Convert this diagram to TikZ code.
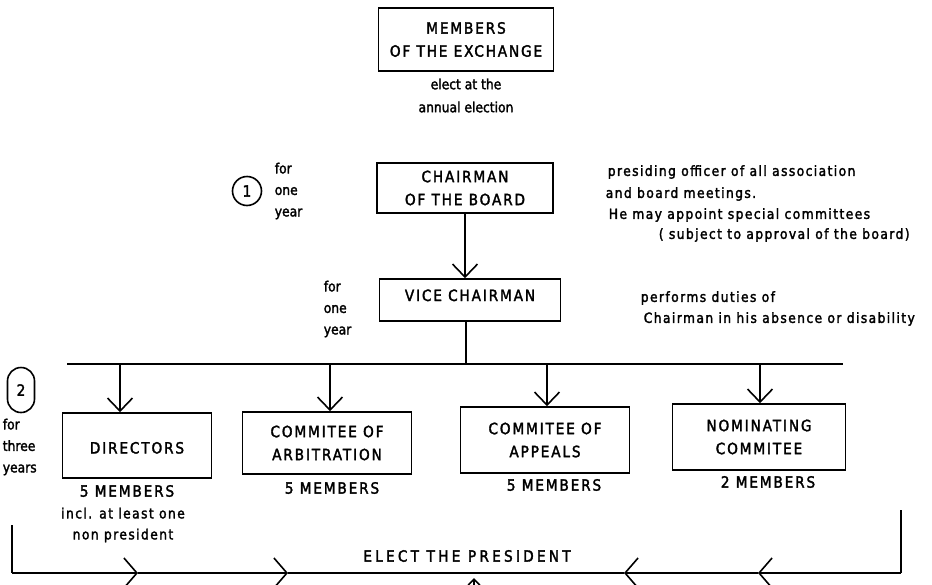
\documentclass[tikz,border=0pt]{standalone}
\usepackage{fontspec}
\setmainfont{DejaVu Sans}
\newfontfamily\capf[FakeStretch=0.88,LetterSpace=12,FakeBold=2]{DejaVu Sans}
\newfontfamily\elpf[FakeStretch=0.88,LetterSpace=21,FakeBold=2]{DejaVu Sans}
\newfontfamily\lowf[FakeStretch=0.88,FakeBold=2]{DejaVu Sans}
\newfontfamily\notef[FakeStretch=0.88,LetterSpace=10,FakeBold=2]{DejaVu Sans}
\usetikzlibrary{arrows.meta}
\begin{document}
\begin{tikzpicture}[x=1pt,y=-1pt,line width=1.6pt,
  box/.style={draw,line width=1.6pt,align=center,inner sep=0pt,font=\capf\fontsize{15.5}{23}\selectfont},
  lbl/.style={align=left,inner sep=0pt,font=\lowf\fontsize{14}{21.5}\selectfont},
  note/.style={inner sep=0pt,anchor=west,font=\notef\fontsize{14}{21}\selectfont},
  captxt/.style={inner sep=0pt,font=\capf\fontsize{15.5}{21}\selectfont},
  ring/.style={draw,line width=1.6pt,inner sep=0pt,font=\capf\fontsize{15.5}{18}\selectfont},
  arr/.style={line width=1.6pt,-{Straight Barb[length=13pt,width=25pt]}},
  chev/.style={line width=1.6pt,-{Straight Barb[length=13pt,width=30pt]}}]
\useasboundingbox[fill=white] (0,0) rectangle (932,584);
\clip (0,0) rectangle (932,584);
% top
\node[box,minimum width=175pt,minimum height=63pt] (mem) at (466,39.5) {MEMBERS\\OF THE EXCHANGE};
\node[lbl,align=center,font=\lowf\fontsize{14}{23}\selectfont] (elect) at (466,95.5) {elect at the\\annual election};
% chairman
\node[ring,circle,minimum size=29pt] (c1) at (247,191) {1};
\node[lbl,anchor=west] (fy1) at (274,191) {for\\one\\year};
\node[box,minimum width=176pt,minimum height=50pt] (ch) at (465,188) {CHAIRMAN\\OF THE BOARD};
\node[note] (p1) at (607,172) {presiding officer of all association};
\node[note] (p2) at (605,194) {and board meetings.};
\node[note] (p3) at (608,215) {He may appoint special committees};
\node[note] (p4) at (658,235) {( subject to approval of the board)};
% vice chairman
\node[lbl,anchor=west] (fy2) at (323,309) {for\\one\\year};
\node[box,minimum width=181pt,minimum height=42pt] (vc) at (470,300) {\raisebox{-1pt}[0pt][0pt]{VICE CHAIRMAN}};
\node[note] (d1) at (640,298) {performs duties of};
\node[note] (d2) at (643,319) {Chairman in his absence or disability};
\draw[arr] (ch.south) -- (ch.south |- vc.north);
% bus
\coordinate (busL) at (67,364);
\coordinate (busR) at (843,364);
\coordinate (vbus) at (466,364);
\draw (busL) -- (busR);
\draw (vc.south -| vbus) -- (vbus);
% committees
\node[ring,rounded corners=13.5pt,minimum width=27pt,minimum height=45pt] (c2) at (21,390) {2};
\node[lbl,anchor=west] (fy3) at (2,447) {for\\three\\years};
\node[box,minimum width=149pt,minimum height=65pt] (dir) at (137,445.5) {\raisebox{-8pt}[0pt][0pt]{DIRECTORS}};
\node[box,minimum width=169pt,minimum height=62pt] (arb) at (327,443) {COMMITEE OF\\ARBITRATION};
\node[box,minimum width=169pt,minimum height=66pt] (app) at (545,440) {COMMITEE OF\\APPEALS};
\node[box,minimum width=173pt,minimum height=66pt] (nom) at (759,437) {NOMINATING\\COMMITEE};
\coordinate (b1) at (120,364);
\coordinate (b2) at (330,364);
\coordinate (b3) at (547,364);
\coordinate (b4) at (760,364);
\draw[arr] (b1) -- (b1 |- dir.north);
\draw[arr] (b2) -- (b2 |- arb.north);
\draw[arr] (b3) -- (b3 |- app.north);
\draw[arr] (b4) -- (b4 |- nom.north);
\node[captxt] (m1) at (127,491) {5 MEMBERS};
\node[note,anchor=center,align=center] (m1b) at (123,525) {incl. at least one\\non president};
\node[captxt] (m2) at (332,488) {5 MEMBERS};
\node[captxt] (m3) at (554,485) {5 MEMBERS};
\node[captxt] (m4) at (768,482) {2 MEMBERS};
% election of the president
\coordinate (LT) at (12,525);
\coordinate (LB) at (12,573);
\coordinate (RT) at (901,510);
\coordinate (RB) at (901,573);
\coordinate (a1) at (138,573);
\coordinate (a2) at (288,573);
\coordinate (a3) at (624,573);
\coordinate (a4) at (758,573);
\coordinate (upT) at (474,578);
\coordinate (upB) at (474,600);
\draw (LT) -- (LB);
\draw[chev] (LB) -- (a1);
\draw[chev] (a1) -- (a2);
\draw (a2) -- (a3);
\draw (RT) -- (RB);
\draw[chev] (RB) -- (a4);
\draw[chev] (a4) -- (a3);
\node[inner sep=0pt,font=\elpf\fontsize{15.5}{18}\selectfont] (elp) at (467,556) {ELECT THE PRESIDENT};
\draw[arr] (upB) -- (upT);
\end{tikzpicture}
\end{document}
